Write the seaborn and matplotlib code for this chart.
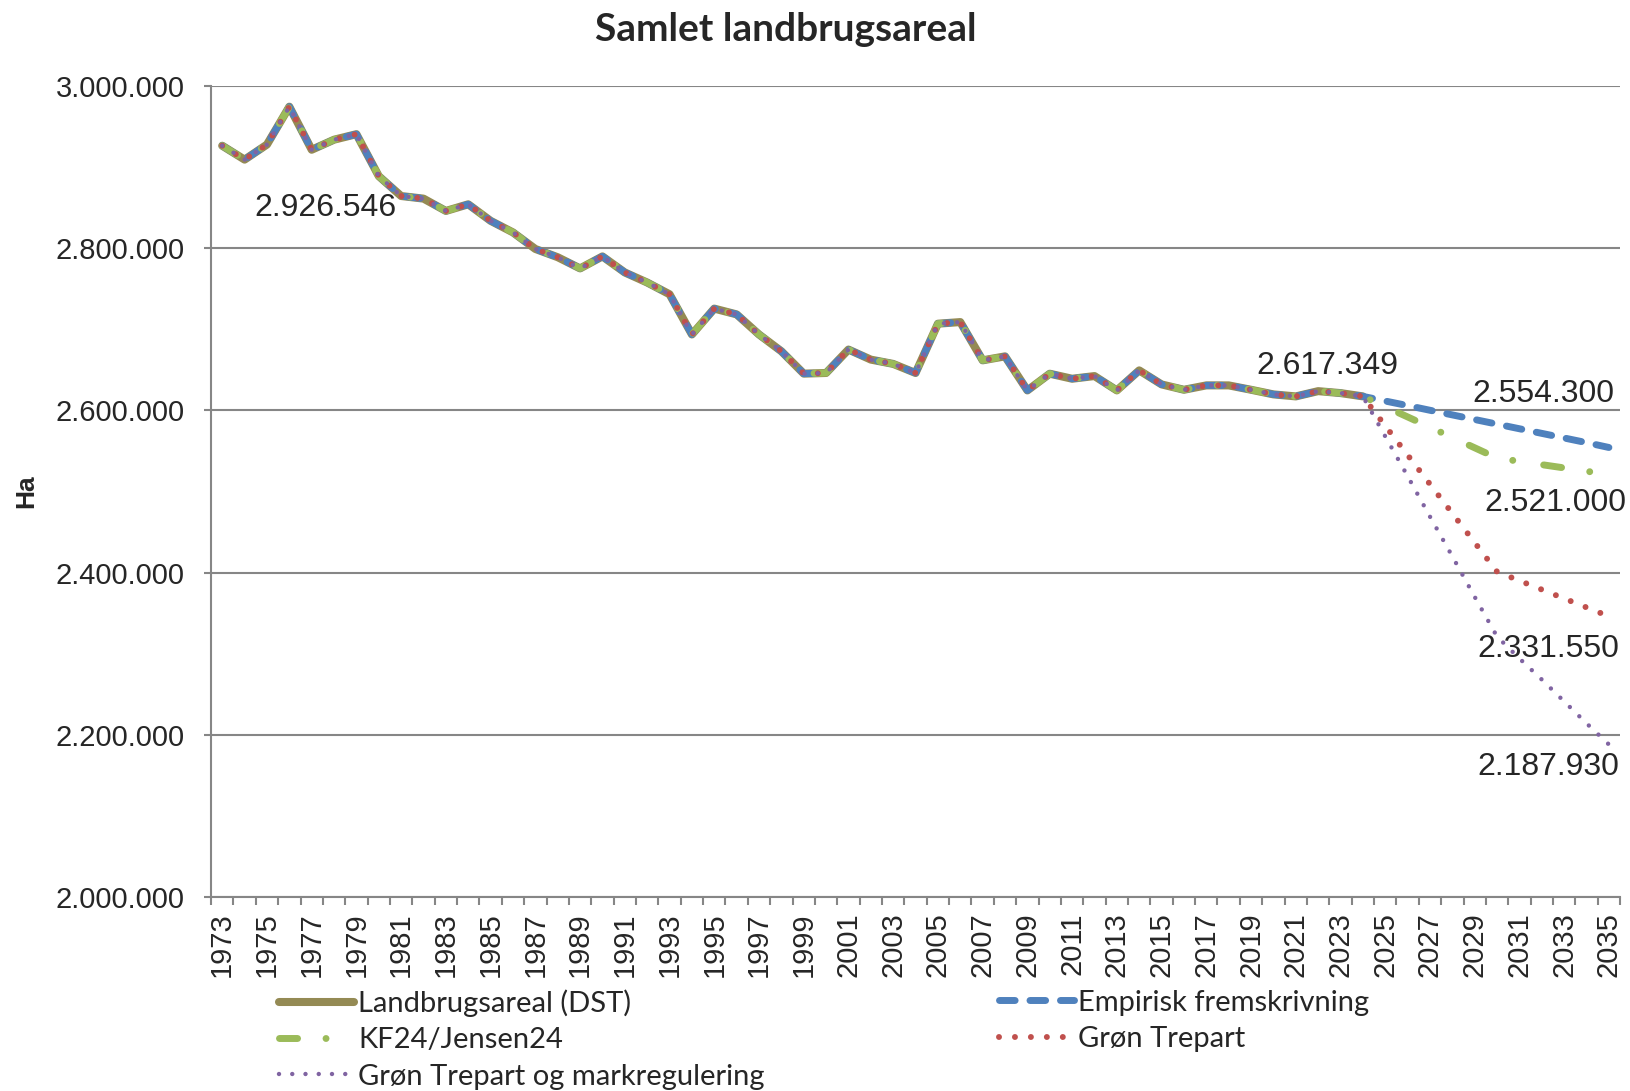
import numpy as np
import pandas as pd
import seaborn as sns
import matplotlib.pyplot as plt
from matplotlib.ticker import FuncFormatter

# historiske aar og projektionsaar
hist_years = list(range(1973, 2025))
proj_years = list(range(2025, 2036))

landbrug = [2926546, 2909400, 2928000, 2974700, 2921600, 2934000, 2940800, 2889000,
            2864500, 2861300, 2846100, 2854300, 2833900, 2819600, 2799200, 2789000,
            2775200, 2790000, 2770200, 2757800, 2743300, 2693700, 2725600, 2718500,
            2693700, 2673000, 2645400, 2646200, 2675100, 2662700, 2657400, 2646200,
            2707000, 2709000, 2661800, 2666700, 2624700, 2645300, 2639100, 2642400,
            2624700, 2649400, 2632100, 2625500, 2630900, 2630900, 2625500, 2619800,
            2617300, 2623800, 2621400, 2617349]

# 2025-2035
empirisk = [2611600, 2606000, 2600200, 2594500, 2588800, 2583100, 2577400, 2571700,
            2566000, 2560300, 2554300]
kf24 = [2604600, 2592000, 2579300, 2566600, 2553900, 2541200, 2537200, 2533100,
        2529100, 2525000, 2521000]
trepart = [2581000, 2545000, 2509000, 2473000, 2437000, 2401000, 2390000, 2379000,
           2368000, 2357000, 2346000]
trepart_mark = [2568000, 2519000, 2469000, 2420000, 2370000, 2321000, 2294000, 2268000,
                2241000, 2214000, 2187930]

names = ['Landbrugsareal (DST)', 'Empirisk fremskrivning', 'KF24/Jensen24',
         'Grøn Trepart', 'Grøn Trepart og markregulering']
colors = ['#948A54', '#4F81BD', '#9BBB59', '#C0504D', '#8064A2']

nan_tail = [np.nan] * len(proj_years)
df = pd.DataFrame({
    'aar': hist_years + proj_years,
    names[0]: landbrug + nan_tail,
    names[1]: landbrug + empirisk,
    names[2]: landbrug + kf24,
    names[3]: landbrug + trepart,
    names[4]: landbrug + trepart_mark,
})

sns.set_theme(style='white')
plt.rcParams['font.family'] = ['Liberation Sans', 'DejaVu Sans']

fig, ax = plt.subplots(figsize=(16.31, 10.91), dpi=100)
fig.subplots_adjust(left=0.1294, right=0.9933, top=0.921, bottom=0.178)

widths = [5.8, 5.0, 5.0, 4.3, 3.2]
dashes = [None, (2.25, 2.14), (2.6, 4.1, 0.001, 4.5), (0.001, 2.67), (0.001, 2.98)]
handles = []
for name, c, lw, d in zip(names, colors, widths, dashes):
    sns.lineplot(data=df, x='aar', y=name, ax=ax, color=c, lw=lw,
                 estimator=None, legend=False)
    line = ax.lines[-1]
    line.set_label(name)
    if d is not None:
        line.set_dashes(d)
        line.set_dash_capstyle('round')
    handles.append(line)

# akser
ax.set_xlim(1972.5, 2035.5)
ax.set_ylim(2000000, 3000000)
ax.set_yticks(np.arange(2000000, 3000001, 200000))
ax.yaxis.set_major_formatter(FuncFormatter(lambda v, p: f'{int(v):,}'.replace(',', '.')))
ax.set_xticks(list(range(1973, 2036, 2)))
ax.set_xticks(np.arange(1972.5, 2036, 1), minor=True)
ax.tick_params(axis='x', which='major', length=0, pad=11, labelsize=21, rotation=90)
ax.tick_params(axis='x', which='minor', length=6, width=1.5, color='#868686', bottom=True)
ax.tick_params(axis='y', length=5, width=1.5, color='#868686', pad=14, labelsize=21, left=True)
ax.set_xlabel('')
ax.set_ylabel('')
ax.grid(axis='y', color='#868686', lw=1.5)
ax.grid(axis='x', visible=False)
for s in ['top', 'right']:
    ax.spines[s].set_visible(False)
for s in ['left', 'bottom']:
    ax.spines[s].set_color('#868686')
    ax.spines[s].set_linewidth(1.5)

fig.text(0.482, 0.973, 'Samlet landbrugsareal', ha='center', va='center',
         fontsize=28, fontweight='bold', family='Lato')
fig.text(0.016, 0.55, 'Ha', rotation=90, ha='center', va='center',
         fontsize=19, fontweight='bold')

# datalabels
labels = [(1973, landbrug[0], 103, -62),
          (2024, landbrug[-1], -35, 30),
          (2035, empirisk[-1], -66, 53),
          (2035, kf24[-1], -54, -29),
          (2035, trepart[-1], -61, -33),
          (2035, trepart_mark[-1], -61, -23)]
label_txt = ['2.926.546', '2.617.349', '2.554.300', '2.521.000', '2.331.550', '2.187.930']
for (x, y, dx, dy), t in zip(labels, label_txt):
    ax.annotate(t, xy=(x, y), xytext=(dx, dy), textcoords='offset pixels',
                ha='center', va='center', fontsize=23, annotation_clip=False)

leg_font = {'family': 'Lato', 'size': 21}
leg_kw = dict(loc='upper left', frameon=False, borderpad=0, borderaxespad=0,
              handlelength=2.57, handletextpad=0.15, labelspacing=0.35, prop=leg_font)
fig.legend([handles[0], handles[2], handles[4]], [names[0], names[2], names[4]],
           bbox_to_anchor=(279 / 1631, 0.093), **leg_kw)
fig.legend([handles[1], handles[3]], [names[1], names[3]],
           bbox_to_anchor=(999 / 1631, 0.093), **leg_kw)

fig.savefig('out.png', dpi=100)
